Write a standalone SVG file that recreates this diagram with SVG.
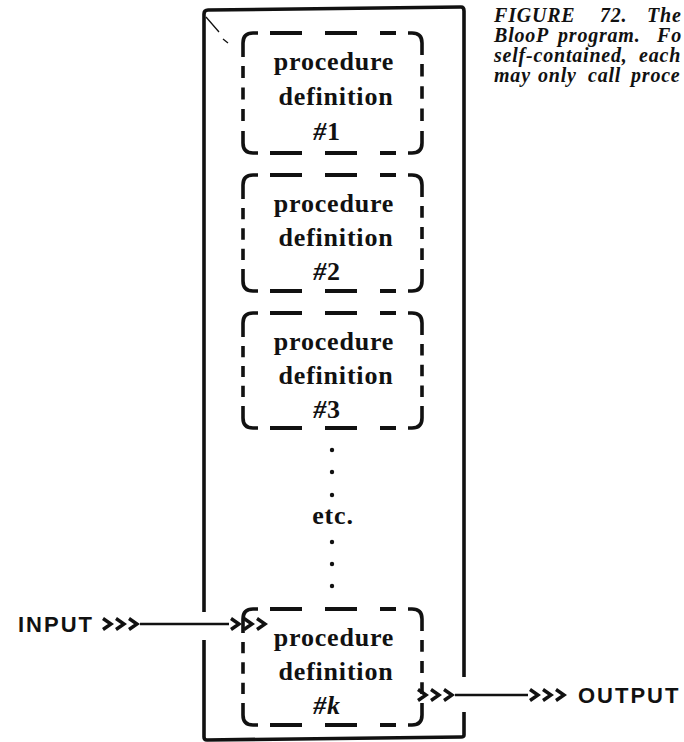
<svg xmlns="http://www.w3.org/2000/svg" width="684" height="742" viewBox="0 0 684 742">
  <style>
    .ink { stroke: #111; fill: none; }
    .frame { stroke: #111; fill: none; stroke-width: 3.6; stroke-linejoin: round; }
    .corner { stroke: #111; fill: none; stroke-width: 3.6; stroke-linecap: butt; }
    .hdash { stroke: #111; fill: none; stroke-width: 3.8; stroke-dasharray: 16 11.5; }
    .vdash { stroke: #111; fill: none; stroke-width: 3.6; stroke-dasharray: 12 9.5; }
    .lbl { font-family: "Liberation Serif", "Times New Roman", serif; font-size: 26px; font-weight: bold; letter-spacing: 0.8px; text-anchor: middle; fill: #111; }
    .hash { font-style: italic; }
    .cap { font-family: "Liberation Serif", "Times New Roman", serif; font-size: 20px; font-weight: bold; font-style: italic; letter-spacing: 0.8px; fill: #111; }
    .io { font-family: "Liberation Sans", Arial, sans-serif; font-size: 22px; font-weight: bold; letter-spacing: 2px; fill: #111; }
    .conn { stroke: #111; stroke-width: 2.4; fill: none; }
    .chev { stroke: #111; stroke-width: 3.4; fill: none; stroke-linejoin: miter; }
  </style>
  <defs>
    <!-- triple chevron: "head" sits after the end point, "tail" sits before the start point -->
    <marker id="head3" markerUnits="userSpaceOnUse" markerWidth="40" markerHeight="16" refX="-2" refY="0" orient="auto" overflow="visible">
      <path class="chev" d="M0,-5.5 L8,0 L0,5.5 M13,-5.5 L21,0 L13,5.5 M26,-5.5 L34,0 L26,5.5"/>
    </marker>
    <marker id="tail3" markerUnits="userSpaceOnUse" markerWidth="40" markerHeight="16" refX="37" refY="0" orient="auto" overflow="visible">
      <path class="chev" d="M0,-5.5 L8,0 L0,5.5 M13,-5.5 L21,0 L13,5.5 M26,-5.5 L34,0 L26,5.5"/>
    </marker>
  </defs>

  <rect width="684" height="742" fill="#fff"/>

  <!-- caption, set against the right edge -->
  <g id="caption">
    <text class="cap" y="22"><tspan x="494">FIGURE</tspan><tspan x="600">72.</tspan><tspan x="647">The</tspan></text>
    <text class="cap" y="42"><tspan x="494">BlooP</tspan><tspan x="558">program.</tspan><tspan x="657">Fo</tspan></text>
    <text class="cap" y="62"><tspan x="494">self-contained,</tspan><tspan x="639">each</tspan></text>
    <text class="cap" y="82"><tspan x="494">may</tspan><tspan x="538">only</tspan><tspan x="588">call</tspan><tspan x="631">proce</tspan></text>
  </g>

  <!-- program frame, open where input enters and output leaves -->
  <g id="program">
    <path class="frame" d="M204,612 V14 Q204,10 208,10 L461,7 Q464,7 464,11 V677"/>
    <path class="frame" d="M464,712 V735 Q464,737 461,737 L207,740 Q204,740 204,737 V640"/>
    <path class="ink" stroke-width="1.3" d="M206,17 L219,32 M223,39 L228,43"/>
  </g>

  <!-- procedure definition #1 -->
  <g id="proc1">
    <path class="corner" d="M243,57 V43 Q243,33 253,33 H258 M408,33 H412 Q422,33 422,43 V55 M243,131 V143 Q243,153 253,153 H258 M422,131 V143 Q422,153 412,153 H408"/>
    <path class="hdash" d="M270,33 H396 M270,153 H396" pathLength="126"/>
    <path class="vdash" d="M243,66 V121" pathLength="55"/>
    <path class="vdash" d="M422,64 V121" pathLength="55"/>
    <text class="lbl" x="334" y="70">procedure</text>
    <text class="lbl" x="336" y="105">definition</text>
    <text class="lbl" x="327" y="140"><tspan class="hash">#</tspan>1</text>
  </g>

  <!-- procedure definition #2 -->
  <g id="proc2">
    <path class="corner" d="M243,199 V185 Q243,175 253,175 H258 M408,175 H412 Q422,175 422,185 V197 M243,269 V281 Q243,291 253,291 H258 M422,269 V281 Q422,291 412,291 H408"/>
    <path class="hdash" d="M270,175 H396 M270,291 H396" pathLength="126"/>
    <path class="vdash" d="M243,208 V260" pathLength="55"/>
    <path class="vdash" d="M422,206 V260" pathLength="55"/>
    <text class="lbl" x="334" y="212">procedure</text>
    <text class="lbl" x="336" y="246">definition</text>
    <text class="lbl" x="327" y="280"><tspan class="hash">#</tspan>2</text>
  </g>

  <!-- procedure definition #3 -->
  <g id="proc3">
    <path class="corner" d="M243,337 V323 Q243,313 253,313 H258 M408,313 H412 Q422,313 422,323 V335 M243,406 V418 Q243,428 253,428 H258 M422,406 V418 Q422,428 412,428 H408"/>
    <path class="hdash" d="M270,313 H396 M270,428 H396" pathLength="126"/>
    <path class="vdash" d="M243,346 V397" pathLength="55"/>
    <path class="vdash" d="M422,344 V397" pathLength="55"/>
    <text class="lbl" x="334" y="350">procedure</text>
    <text class="lbl" x="336" y="384">definition</text>
    <text class="lbl" x="327" y="418"><tspan class="hash">#</tspan>3</text>
  </g>

  <!-- ellipsis between #3 and #k -->
  <g id="etc">
    <circle cx="332" cy="450" r="2.2" fill="#111"/>
    <circle cx="332" cy="472" r="2.2" fill="#111"/>
    <circle cx="332" cy="495" r="2.2" fill="#111"/>
    <text class="lbl" x="333" y="524">etc.</text>
    <circle cx="332" cy="542" r="2.2" fill="#111"/>
    <circle cx="332" cy="564" r="2.2" fill="#111"/>
    <circle cx="332" cy="586" r="2.2" fill="#111"/>
  </g>

  <!-- procedure definition #k -->
  <g id="prock">
    <path class="corner" d="M243,633 V619 Q243,609 253,609 H258 M408,609 H412 Q422,609 422,619 V631 M243,703 V715 Q243,725 253,725 H258 M422,703 V715 Q422,725 412,725 H408"/>
    <path class="hdash" d="M270,609 H396 M270,725 H396" pathLength="126"/>
    <path class="vdash" d="M243,642 V694" pathLength="55"/>
    <path class="vdash" d="M422,640 V694" pathLength="55"/>
    <text class="lbl" x="334" y="646">procedure</text>
    <text class="lbl" x="336" y="680">definition</text>
    <text class="lbl" x="327" y="714"><tspan class="hash">#</tspan><tspan font-style="italic">k</tspan></text>
  </g>

  <!-- input and output labels -->
  <g id="input">
    <text class="io" x="18" y="632">INPUT</text>
  </g>
  <g id="output">
    <text class="io" x="578" y="703">OUTPUT</text>
  </g>

  <!-- connectors -->
  <g id="connectors">
    <path class="conn" d="M140,624 H229" marker-start="url(#tail3)" marker-end="url(#head3)"/>
    <path class="conn" d="M455,695 H528" marker-start="url(#tail3)" marker-end="url(#head3)"/>
  </g>
</svg>
